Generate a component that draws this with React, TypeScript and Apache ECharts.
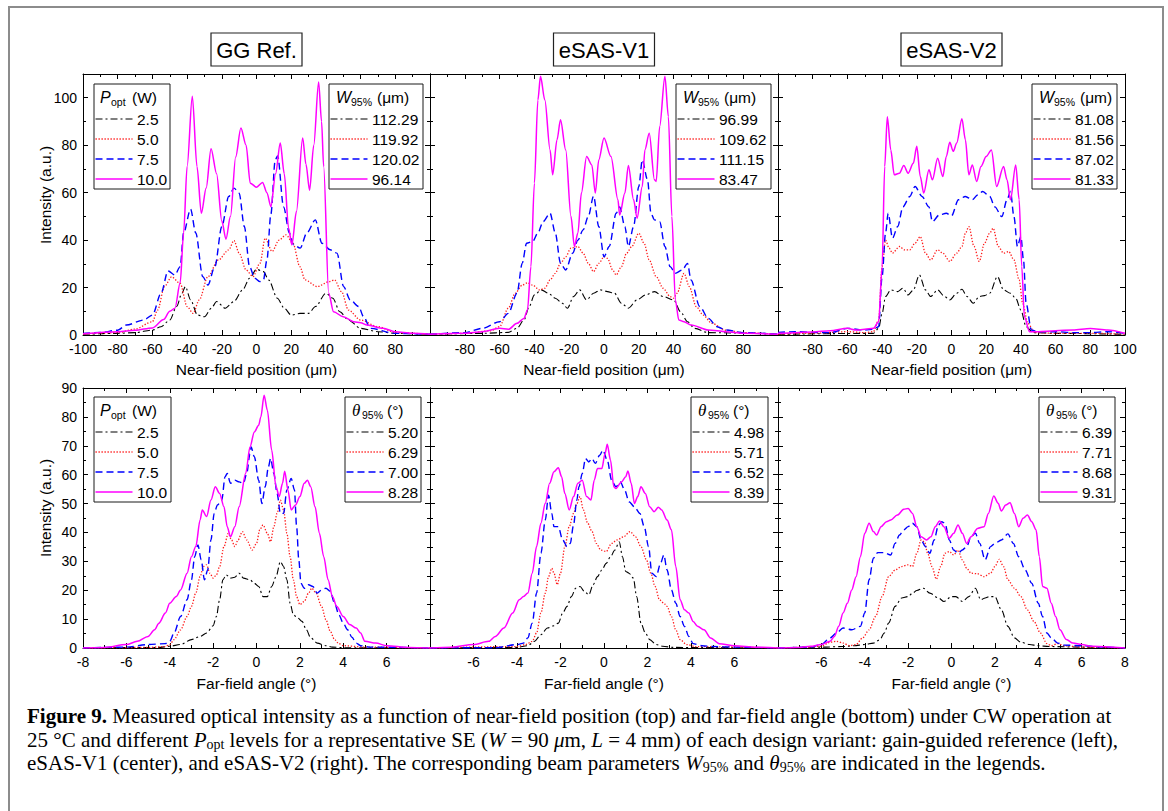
import React, { useEffect, useRef } from 'react';
import * as echarts from 'echarts';

// ---------- legend texts ----------
const powerLevels = ['2.5', '5.0', '7.5', '10.0'];
const w95GG = ['112.29', '119.92', '120.02', '96.14'];
const w95V1 = ['96.99', '109.62', '111.15', '83.47'];
const w95V2 = ['81.08', '81.56', '87.02', '81.33'];
const th95GG = ['5.20', '6.29', '7.00', '8.28'];
const th95V1 = ['4.98', '5.71', '6.52', '8.39'];
const th95V2 = ['6.39', '7.71', '8.68', '9.31'];
const panelTitles = ['GG Ref.', 'eSAS-V1', 'eSAS-V2'];

// ---------- near-field data: [position (µm), intensity] ----------
const nfGG_25 = [[-100,0.3],[-80,0.7],[-70,1],[-60,2.1],[-55,3.5],[-50,6.3],[-46,12],[-43,17.6],[-41,20.4],[-38,14.8],[-34,8.4],[-30,7.7],[-26,11.3],[-23,14.1],[-18,11.3],[-13,14.1],[-8,19],[-4,23.9],[0,27.7],[4,26.7],[7,23.2],[12,15.5],[16,11.3],[20,8.4],[25,9.1],[30,9.1],[34,12],[40,17.6],[44,15.5],[48,9.8],[53,6.3],[60,2.8],[70,1.4],[80,0.7],[100,0.3]];
const nfGG_50 = [[-100,0.4],[-80,1],[-70,2.5],[-60,5.6],[-57,10.5],[-53,20.4],[-49,24.5],[-44,21.8],[-40,12],[-36.5,9.1],[-33,14.8],[-28,24.6],[-22,31.6],[-16,35.9],[-13,39.8],[-10,34.5],[-6,27.4],[-2,24.6],[2,30.2],[5,40.8],[9,35.2],[13,40],[17,42.2],[21,38.7],[25,28.8],[28,23.2],[35,20.4],[42,22.5],[45,23.2],[49,18.3],[53,10.5],[60,6.3],[70,3.5],[80,1],[100,0.3]];
const nfGG_75 = [[-100,0.7],[-90,1.1],[-80,2],[-75,4.2],[-65,6.3],[-60,8.4],[-55,17.6],[-51,27],[-47,25.3],[-44,28.8],[-42,43],[-38,53],[-35,43],[-31,24.6],[-28,21.1],[-24,28.8],[-20,45.7],[-16,58.4],[-13,61.9],[-10,59.8],[-7,45.7],[-4,28.8],[-1,23.9],[2,22.5],[4,23.2],[6,31.6],[8.3,51],[10.8,73.8],[12.2,75.5],[15.6,54],[19,42.9],[21.4,38],[25.2,36.6],[29,43],[33.9,48.5],[37.7,38.7],[42.5,35.9],[46.4,34.5],[50.2,20.4],[54,14.8],[58.9,12],[61.7,7.7],[65.6,2.8],[80,0.7],[100,0.3]];
const nfGG_100 = [[-100,0.5],[-80,1.4],[-70,2],[-60,3],[-53.5,6.5],[-50,10],[-47,11.3],[-44,22],[-42,43],[-40,71],[-37,100.6],[-34.3,71],[-31.8,51.3],[-29,62],[-26.2,78.5],[-23,68],[-20,48],[-17.6,40.4],[-15,50],[-12,75],[-9,87.2],[-6,80],[-3.6,64],[0,62.3],[3.5,64.3],[6,60],[8.3,54.1],[11,68],[13.7,80.9],[16,68],[18.5,45],[20.4,38],[23,52],[26.6,83],[28.5,72],[30.6,61],[33,80],[35.8,106.6],[37.5,90],[38.7,71],[41.6,17.6],[44.4,9.8],[50,7.7],[56,5.6],[60,5.2],[63.7,4.2],[73,2.8],[80,1.4],[90,0.7],[100,0.3]];

const nfV1_25 = [[-100,0.3],[-70,0.7],[-55,1.1],[-50,2.8],[-46,6.3],[-43,12],[-40,16.9],[-36,19],[-32,17.6],[-28,15.5],[-24,13.4],[-21,11.3],[-17.5,16.2],[-14,19],[-10,14.8],[-6,17.6],[-2,19],[2,18.3],[6,17.6],[10,13.4],[14,11.3],[19,14.8],[24,16.9],[29,18.3],[34,16.2],[40,14.8],[44,9.8],[48,5.6],[52,2.8],[60,1],[100,0.3]];
const nfV1_50 = [[-100,0.3],[-80,0.7],[-65,1.8],[-60,3.5],[-55,11.3],[-51,17.6],[-47,21],[-44,22],[-41,21],[-37,19],[-34,19.7],[-31,23.2],[-28,26],[-25,30.2],[-22,33],[-19,36.6],[-15,37.3],[-12,34.5],[-9,30.2],[-6,26.7],[-3,30.2],[0,33],[2,32.3],[5,27.4],[7,25.3],[10,28.8],[13,34.5],[16,37.3],[20,42.9],[23,38.7],[26,31.6],[30,24.6],[34,19.7],[38,16.2],[40,15.5],[42,17.6],[46,26],[49,20.4],[53,12],[57,8.4],[62,4.9],[70,2],[80,1],[100,0.3]];
const nfV1_75 = [[-100,0.3],[-80,1],[-70,2.8],[-60,5.6],[-55,9.1],[-50,17.6],[-47,30.2],[-44.5,38.7],[-41,39.4],[-38,43],[-35,47.8],[-31,51.3],[-28,43],[-25,30.2],[-22,27.4],[-18,34.5],[-15,40],[-12,44.3],[-9,50],[-6,58.5],[-3,45.7],[0,33],[3,37.3],[7,51.3],[9,54],[12,45.7],[14,37.3],[17,45.7],[20,62.6],[22,73.8],[25,65.4],[27,51.3],[29,48.5],[32,47.8],[35,37.3],[38,28.8],[41,26],[45,27.4],[48,30.2],[50,23.2],[55,12],[60,7],[65,3.5],[70,2.1],[80,1],[100,0.3]];
const nfV1_100 = [[-100,0.3],[-80,0.7],[-70,1.4],[-60,2.8],[-55,2.4],[-50,4.9],[-46,7],[-44,10.5],[-42,28.8],[-40,64],[-38,99],[-36.5,109],[-34,99],[-31,78],[-29.5,67.5],[-27,82.3],[-25,90.7],[-22,78],[-19,50],[-17,37.3],[-15,43],[-13,59.8],[-10,75.2],[-7,71.7],[-5,59.8],[-3,73.8],[0,83],[4,75.2],[8,57],[9,50.6],[12,59.8],[14,71.4],[17,57],[19,49.2],[22,62.6],[23.5,78],[26,85],[29,65.4],[30,64.7],[32,87.9],[35,109],[37,92],[39,50],[41,14.8],[43,6.3],[46,5.6],[50,4.2],[60,2.1],[70,1.4],[80,0.7],[100,0.3]];

const nfV2_25 = [[-100,0.3],[-45,0.7],[-42,2.8],[-40,9.1],[-38,16.2],[-35,19],[-31,18.3],[-28,19.7],[-25,16.9],[-22,19],[-18.5,25.3],[-15,19],[-12,16.2],[-8,19],[-4,16.2],[-1,14.8],[3,17.6],[6,19.3],[9,16.2],[12.5,13.4],[16,16.2],[19,16.6],[22,17.6],[26.5,24.6],[30,19],[34,17.6],[37,15.5],[40,10.5],[43,3.5],[47,1],[60,0.7],[100,0.3]];
const nfV2_50 = [[-100,0.4],[-80,0.7],[-60,1.4],[-50,1],[-45,1.4],[-42,6.3],[-40,28.8],[-38,40],[-36,36.6],[-34,34.5],[-30,37.3],[-27,35.9],[-24,35.9],[-21,38.7],[-18,41.5],[-15,34.5],[-12,31.6],[-8,35.9],[-5,34.5],[-1,31],[3,34.5],[6,37.3],[8,42.9],[10,45.7],[13,37.3],[16,31],[19,38.7],[22,42.9],[24,45],[27,37.3],[30,34.5],[33,35.2],[36,31.6],[39,23.2],[41,13.4],[44,4.9],[48,1],[60,0.7],[80,0.7],[100,0.4]];
const nfV2_75 = [[-100,1.1],[-90,1.4],[-80,1.1],[-70,1],[-60,2.8],[-50,2.1],[-45,2.4],[-42,3.5],[-40,24.6],[-38,43],[-36.5,51.3],[-34,40.8],[-31,45.7],[-28,54],[-24,58.4],[-21,62.6],[-17,58.4],[-13,54],[-11,47.8],[-7,50.6],[-3,51.3],[0,50.2],[4,57],[8,58.4],[12,57],[15,59],[18,60.5],[22,58.4],[25,54],[29,49.9],[32,57],[34,60.5],[36,49.9],[38,37.3],[40,41.6],[41.5,31.6],[43,13.4],[46,2.1],[50,1.4],[60,1.4],[70,1],[80,1],[90,1.4],[100,0.7]];
const nfV2_100 = [[-100,0.7],[-90,1],[-80,1.3],[-70,1.8],[-60,2.8],[-55,2.1],[-50,2.4],[-45,2.8],[-42,5.6],[-40,28.8],[-38.5,71],[-37,92],[-35,78],[-33,67.5],[-30,68.2],[-27.5,71.4],[-25,68.2],[-22,72.4],[-20,79.5],[-18,66.8],[-16,59.8],[-13,69.6],[-11,65.4],[-8,74.5],[-5,66.8],[-3,75.2],[-1,81.2],[1,77.4],[3,80.9],[6,91.1],[8,82.3],[10,67.5],[12,71.7],[14.5,64.7],[17,71],[20,75.2],[23,78],[26,62.6],[30,71],[32,65.4],[34,57],[37,71.7],[39,57],[40.5,28.8],[42,7.7],[45,1.4],[50,1.4],[60,1.8],[70,2.1],[80,2.7],[90,2.1],[100,0.7]];

// ---------- far-field data: [angle (°), intensity] ----------
const ffGG_25 = [[-8,0],[-4.5,0.2],[-4,0.6],[-3.5,1.2],[-3,2.9],[-2.6,4],[-2.3,5.2],[-2,7.7],[-1.85,10.9],[-1.7,16.7],[-1.55,23.6],[-1.4,25.3],[-1.2,24.2],[-1,24.5],[-0.8,25.9],[-0.6,24.2],[-0.3,23.6],[-0.1,22.4],[0.1,21.3],[0.3,17.8],[0.5,17.8],[0.7,21.3],[0.9,24.7],[1.1,29.9],[1.25,28.2],[1.4,23.6],[1.55,15.5],[1.7,11.5],[1.9,10.4],[2.1,9.2],[2.3,6.3],[2.5,3.5],[2.8,1.7],[3.2,0.8],[3.5,0.3],[4,0.1],[8,0]];
const ffGG_50 = [[-8,0],[-5,0.2],[-4.2,0.5],[-4,1.2],[-3.8,2.9],[-3.5,6.3],[-3.2,10.9],[-3,14.4],[-2.8,19],[-2.6,24.7],[-2.45,28.2],[-2.3,28.8],[-2.15,25.9],[-2,24.2],[-1.85,25.3],[-1.7,28.2],[-1.5,35.1],[-1.3,39.7],[-1.15,37.4],[-1,35.1],[-0.85,37.4],[-0.65,40.3],[-0.45,37.4],[-0.2,33.9],[0,36.2],[0.15,40.9],[0.3,42.6],[0.5,39.7],[0.65,36.8],[0.8,42],[0.95,46.6],[1.1,51.2],[1.25,47.8],[1.4,39.7],[1.55,31.6],[1.7,23.6],[1.85,17.8],[2,15],[2.2,16.1],[2.4,19],[2.55,20.7],[2.75,19],[3,14.4],[3.2,9.8],[3.4,5.8],[3.6,2.9],[3.8,1.5],[4,0.8],[5,0.3],[8,0]];
const ffGG_75 = [[-8,0],[-6,0.3],[-5,1.2],[-4.2,1.5],[-4,2.3],[-3.8,5.2],[-3.5,10.9],[-3.2,16.7],[-3,23.6],[-2.85,31.6],[-2.7,35.7],[-2.55,30.5],[-2.4,23.6],[-2.25,27],[-2.1,37.4],[-1.95,46.6],[-1.8,49.5],[-1.6,51.2],[-1.45,59.3],[-1.35,60.4],[-1.2,57],[-1,58.1],[-0.8,57.5],[-0.6,57],[-0.45,60.4],[-0.3,67.3],[-0.25,69.6],[-0.1,66.2],[0.1,58.1],[0.25,50],[0.4,55.8],[0.55,62.7],[0.65,65.6],[0.8,60.4],[0.95,53.5],[1.1,46.6],[1.25,46.6],[1.4,54.7],[1.6,58.7],[1.75,54.7],[1.85,42],[1.95,30.5],[2.05,22.4],[2.2,20.7],[2.4,21.9],[2.6,21.3],[2.8,19],[3,20.1],[3.2,20.7],[3.4,19.6],[3.6,15.5],[3.8,11.5],[4,8.6],[4.2,6.3],[4.4,3.7],[4.6,1.7],[4.8,0.8],[5.2,0.3],[8,0]];
const ffGG_100 = [[-8,0],[-7,0.2],[-6,1.2],[-5.5,2.3],[-5,4],[-4.7,6.3],[-4.5,8.6],[-4.2,12.1],[-4,15.5],[-3.7,17.8],[-3.5,20.1],[-3.2,25.9],[-3,31.6],[-2.8,35.1],[-2.6,44.3],[-2.5,47.8],[-2.3,45.5],[-2.1,51.2],[-1.9,55.8],[-1.7,53.5],[-1.5,48.9],[-1.35,42],[-1.2,38.5],[-1,42],[-0.8,48.9],[-0.5,60.4],[-0.3,69.6],[-0.1,74.8],[0.1,77.1],[0.2,80],[0.35,87.5],[0.5,82.3],[0.7,68.5],[0.9,55.8],[1.05,52.4],[1.2,57],[1.3,61.2],[1.45,54.7],[1.6,47.8],[1.8,49.5],[2,52.4],[2.2,57],[2.35,58.1],[2.5,55.8],[2.7,48.9],[2.9,39.7],[3.1,31.6],[3.3,23.6],[3.5,17.8],[3.7,14.4],[4,10.9],[4.3,8.1],[4.6,6.9],[4.8,5.2],[5,2.3],[5.5,1.7],[6,0.8],[7,0.2],[8,0]];

const ffV1_25 = [[-8,0],[-4,0.2],[-3.5,0.8],[-3.2,2.3],[-2.9,4.6],[-2.6,6.9],[-2.3,7.7],[-2.1,8.6],[-1.9,12.1],[-1.7,14.4],[-1.5,17.8],[-1.3,20.7],[-1.1,21.3],[-0.9,19.6],[-0.7,18.4],[-0.5,21.9],[-0.3,24.7],[-0.1,27],[0.1,29.3],[0.3,31.6],[0.5,33.9],[0.7,36.8],[0.85,31.6],[1,26.5],[1.15,25.9],[1.35,24.2],[1.5,17.8],[1.7,8.6],[1.9,5.2],[2.1,2.9],[2.4,1.2],[2.7,0.6],[3.2,0.2],[8,0]];
const ffV1_50 = [[-8,0],[-4,0.5],[-3.6,1.2],[-3.3,2.3],[-3.1,5.2],[-2.9,12.1],[-2.7,19],[-2.55,24.7],[-2.4,27.6],[-2.3,25.9],[-2.15,21.9],[-2,25.9],[-1.8,35.1],[-1.6,42],[-1.4,46.6],[-1.25,50],[-1.1,52.4],[-0.95,47.8],[-0.75,43.2],[-0.55,40.3],[-0.35,36.2],[-0.15,33.9],[0.1,33.4],[0.35,36.2],[0.6,37.4],[0.9,38.5],[1.2,40.3],[1.45,38.5],[1.7,35.1],[1.95,30.5],[2.15,25.9],[2.35,21.3],[2.55,16.7],[2.75,15.5],[2.9,14.4],[3.1,10.9],[3.3,6.3],[3.5,2.9],[3.8,1.2],[4.2,0.5],[8,0]];
const ffV1_75 = [[-8,0],[-5,0.1],[-4,1.2],[-3.7,1.7],[-3.5,3.5],[-3.3,8.6],[-3.1,19],[-2.9,32.8],[-2.7,44.3],[-2.55,52.9],[-2.4,46.6],[-2.3,42],[-2.1,42],[-1.9,37.4],[-1.7,35.1],[-1.55,36.2],[-1.4,42.6],[-1.25,51.2],[-1.15,55.8],[-1,60.4],[-0.85,65.6],[-0.7,64.4],[-0.55,65.6],[-0.4,63.9],[-0.2,66.7],[-0.05,68.5],[0.15,65],[0.35,58.1],[0.55,55.8],[0.75,57.5],[0.95,54.7],[1.15,50.6],[1.4,48.9],[1.65,46.6],[1.85,42],[2.05,35.1],[2.2,25.9],[2.4,24.7],[2.6,29.3],[2.75,32.2],[2.9,27],[3.1,20.1],[3.3,15.5],[3.5,10.9],[3.7,7.5],[3.9,4],[4.1,1.5],[4.5,0.8],[5,0.5],[6,0.3],[8,0]];
const ffV1_100 = [[-8,0],[-7,0.3],[-6,1.2],[-5.3,2.3],[-5,4],[-4.6,6.9],[-4.2,12.1],[-3.9,16.7],[-3.7,17.8],[-3.5,19],[-3.3,25.9],[-3.1,35.1],[-2.9,43.2],[-2.7,50.1],[-2.5,57],[-2.3,61],[-2.1,62.4],[-1.95,59.3],[-1.8,53.5],[-1.6,47.8],[-1.4,52.4],[-1.2,57],[-1,58.1],[-0.8,52.4],[-0.6,51.2],[-0.45,58.1],[-0.3,62.1],[-0.1,62.1],[0.05,67.3],[0.15,70.5],[0.3,65],[0.45,55.8],[0.55,55.2],[0.8,57.5],[1,59.3],[1.1,61.3],[1.25,57],[1.4,50],[1.55,52.4],[1.7,55.8],[1.9,53.5],[2.1,48.9],[2.3,47.2],[2.5,48.7],[2.65,47.8],[2.9,44.3],[3.1,40.9],[3.3,28.2],[3.5,16.7],[3.7,13.2],[3.9,12.1],[4.1,9.2],[4.3,7.5],[4.6,6.3],[4.9,3.5],[5.3,1.5],[6,0.8],[7,0.3],[8,0]];

const ffV2_25 = [[-8,0],[-6,0.3],[-5,0.5],[-4.5,0.8],[-4,1.2],[-3.6,1.7],[-3.3,2.9],[-3.1,5.2],[-2.9,8.6],[-2.6,14.4],[-2.3,17.3],[-2,17.8],[-1.8,19],[-1.6,19.9],[-1.3,20.7],[-1,19],[-0.6,17.3],[-0.35,16.1],[0,17.8],[0.2,17.8],[0.5,16.1],[0.8,17.8],[1.1,20.7],[1.35,16.7],[1.55,17.3],[1.75,17.8],[2,17.8],[2.3,13.2],[2.6,7.5],[2.9,3.5],[3.2,2],[3.6,1.2],[4,0.8],[4.5,0.5],[6,0.3],[8,0]];
const ffV2_50 = [[-8,0],[-6.5,0.3],[-6,0.6],[-5.6,2],[-5.3,2.3],[-5,1.7],[-4.7,0.8],[-4.4,1.2],[-4.1,3.5],[-3.8,6.3],[-3.5,10.9],[-3.2,17.8],[-2.9,24.7],[-2.6,27],[-2.3,28.2],[-2,28.8],[-1.8,28.2],[-1.6,32.8],[-1.4,37.4],[-1.25,36.8],[-1.1,32.8],[-0.9,28.2],[-0.7,23.8],[-0.5,28.2],[-0.3,32.8],[-0.1,33.4],[0.1,32.2],[0.3,33.9],[0.5,30.5],[0.7,27.6],[0.9,25.9],[1.2,25.7],[1.5,24.7],[1.8,25.9],[2,28.2],[2.2,30.7],[2.4,28.2],[2.6,23.6],[2.9,20.7],[3.2,17.8],[3.5,13.2],[3.8,9.2],[4.1,5.2],[4.4,1.5],[4.6,0.8],[4.9,1.5],[5.2,0.8],[6,0.3],[8,0]];
const ffV2_75 = [[-8,0],[-6.5,0.3],[-6,1.2],[-5.6,3.5],[-5.3,5.2],[-5,6.9],[-4.6,6.3],[-4.2,7.5],[-4,12.1],[-3.8,23.6],[-3.6,31.1],[-3.4,33],[-3.1,33],[-2.8,32.2],[-2.6,36.2],[-2.4,39.1],[-2.2,40.9],[-2,42],[-1.8,43.2],[-1.6,42],[-1.4,37.4],[-1.2,35.1],[-1,32.8],[-0.8,37.4],[-0.6,42.6],[-0.45,43.7],[-0.3,43.2],[-0.1,37.4],[0.1,33.9],[0.3,32.8],[0.5,33.9],[0.7,35.1],[0.9,38.5],[1.1,39.7],[1.3,36.2],[1.55,30.5],[1.8,35.1],[2,36.2],[2.3,37.4],[2.6,39.5],[2.85,36.2],[3.1,31.6],[3.4,27],[3.7,22.4],[4,15.5],[4.2,10.9],[4.4,5.2],[4.6,3.5],[4.9,1.7],[5.2,1],[6,0.8],[7,0.3],[8,0]];
const ffV2_100 = [[-8,0],[-7,0.2],[-6.5,0.6],[-6,1.2],[-5.6,2.3],[-5.4,4],[-5.2,7.5],[-5,12.1],[-4.8,15.5],[-4.6,20.1],[-4.4,24.7],[-4.2,31.6],[-4,39.7],[-3.8,43.2],[-3.6,40.3],[-3.45,39.1],[-3.25,42],[-3,43.7],[-2.8,44.3],[-2.5,46],[-2.2,48],[-2,48.3],[-1.8,46.6],[-1.6,42],[-1.4,38.5],[-1.15,37.4],[-0.95,38.5],[-0.75,42],[-0.55,44],[-0.35,42],[-0.1,38],[0.1,39.7],[0.3,42.6],[0.5,39.7],[0.7,36.2],[0.9,38.5],[1.2,41.4],[1.5,42],[1.7,46.6],[1.95,52.6],[2.15,50.1],[2.3,47.4],[2.5,49.5],[2.7,50.3],[2.9,46.6],[3.1,42],[3.3,44.9],[3.5,46],[3.7,43.7],[3.9,40.9],[4.05,31.6],[4.2,21.3],[4.4,20.7],[4.6,15.5],[4.8,10.9],[5,6.3],[5.3,2.9],[5.6,1.7],[6,1.2],[6.5,0.6],[8,0]];

// ---------- styling ----------
const SANS = '"Liberation Sans", Arial, Helvetica, sans-serif';
const SERIF = '"Liberation Serif", "Times New Roman", serif';
const seriesColors = ['#000000', '#ff1a1a', '#0000ff', '#ff00ff'];
const seriesDashes: any[] = [[7, 3, 2, 3], [1.3, 1.7], [7, 4], null];
const seriesWidths = [1.1, 1.3, 1.4, 1.5];

type Panel = {
  left: number; top: number; width: number; height: number;
  xMin: number; xMax: number; xInt: number; yMax: number; yInt: number;
  showY: boolean; showMin: boolean; showMax: boolean; data: number[][][];
};

const colLefts = [83, 430, 778];
const colWidths = [347, 348, 347];

const panels: Panel[] = [
  { left: colLefts[0], top: 74, width: colWidths[0], height: 261, xMin: -100, xMax: 100, xInt: 20, yMax: 110, yInt: 20, showY: true, showMin: true, showMax: false, data: [nfGG_25, nfGG_50, nfGG_75, nfGG_100] },
  { left: colLefts[1], top: 74, width: colWidths[1], height: 261, xMin: -100, xMax: 100, xInt: 20, yMax: 110, yInt: 20, showY: false, showMin: false, showMax: false, data: [nfV1_25, nfV1_50, nfV1_75, nfV1_100] },
  { left: colLefts[2], top: 74, width: colWidths[2], height: 261, xMin: -100, xMax: 100, xInt: 20, yMax: 110, yInt: 20, showY: false, showMin: false, showMax: true, data: [nfV2_25, nfV2_50, nfV2_75, nfV2_100] },
  { left: colLefts[0], top: 388, width: colWidths[0], height: 260, xMin: -8, xMax: 8, xInt: 2, yMax: 90, yInt: 10, showY: true, showMin: true, showMax: false, data: [ffGG_25, ffGG_50, ffGG_75, ffGG_100] },
  { left: colLefts[1], top: 388, width: colWidths[1], height: 260, xMin: -8, xMax: 8, xInt: 2, yMax: 90, yInt: 10, showY: false, showMin: false, showMax: false, data: [ffV1_25, ffV1_50, ffV1_75, ffV1_100] },
  { left: colLefts[2], top: 388, width: colWidths[2], height: 260, xMin: -8, xMax: 8, xInt: 2, yMax: 90, yInt: 10, showY: false, showMin: false, showMax: true, data: [ffV2_25, ffV2_50, ffV2_75, ffV2_100] },
];

function txt(x: number, y: number, text: string, font: string, align = 'left', extra: any = {}) {
  return {
    type: 'text', x, y, z: 100, silent: true,
    style: { text, font, fill: '#000', textAlign: align, align, textVerticalAlign: 'middle', verticalAlign: 'middle', ...extra },
  };
}

function legend(bx: number, by: number, w: number, kind: 'P' | 'W' | 'T', labels: string[]) {
  const els: any[] = [];
  els.push({ type: 'rect', z: 99, silent: true, shape: { x: bx, y: by, width: w, height: 105 }, style: { fill: '#fff', stroke: '#1a1a1a', lineWidth: 1 } });
  const ty = by + 13;
  if (kind === 'P') {
    els.push(txt(bx + 6, ty, 'P', `italic 16px ${SANS}`));
    els.push(txt(bx + 17, ty + 5, 'opt', `10.5px ${SANS}`));
    els.push(txt(bx + 38, ty, '(W)', `15.5px ${SANS}`));
  } else if (kind === 'W') {
    els.push(txt(bx + 7, ty, 'W', `italic 16px ${SANS}`));
    els.push(txt(bx + 22, ty + 5, '95%', `10.5px ${SANS}`));
    els.push(txt(bx + 48, ty, '(μm)', `15.5px ${SANS}`));
  } else {
    els.push(txt(bx + 7, ty, 'θ', `italic 17px ${SERIF}`));
    els.push(txt(bx + 17, ty + 5, '95%', `10.5px ${SANS}`));
    els.push(txt(bx + 42, ty, '(°)', `15.5px ${SANS}`));
  }
  labels.forEach((lab, i) => {
    const y = by + 35 + 20 * i;
    els.push({ type: 'line', z: 100, silent: true, shape: { x1: bx + 1.5, y1: y, x2: bx + 38.5, y2: y }, style: { stroke: seriesColors[i], lineWidth: seriesWidths[i], lineDash: seriesDashes[i] || undefined } });
    els.push(txt(bx + 43, y, lab, `15.5px ${SANS}`));
  });
  return els;
}

function buildOption() {
  const grid: any[] = [];
  const xAxis: any[] = [];
  const yAxis: any[] = [];
  const series: any[] = [];
  const tick = { inside: true, length: 5, lineStyle: { color: '#000', width: 1 } };
  const minor = { show: true, splitNumber: 2, length: 3, lineStyle: { color: '#000', width: 1 } };
  const line = { show: true, onZero: false, lineStyle: { color: '#000', width: 1 } };
  panels.forEach((p, i) => {
    grid.push({ left: p.left, top: p.top, width: p.width, height: p.height, containLabel: false });
    const xBase = { type: 'value', gridIndex: i, min: p.xMin, max: p.xMax, interval: p.xInt, axisLine: line, axisTick: tick, minorTick: minor, splitLine: { show: false }, minorSplitLine: { show: false } };
    xAxis.push({ ...xBase, position: 'bottom', axisLabel: { show: true, color: '#000', fontSize: 14, lineHeight: 14, fontFamily: SANS, margin: 7, showMinLabel: p.showMin, showMaxLabel: p.showMax } });
    xAxis.push({ ...xBase, position: 'top', axisLabel: { show: false } });
    const yBase = { type: 'value', gridIndex: i, min: 0, max: p.yMax, interval: p.yInt, axisLine: line, axisTick: tick, minorTick: minor, splitLine: { show: false }, minorSplitLine: { show: false } };
    yAxis.push({ ...yBase, position: 'left', axisLabel: { show: p.showY, color: '#000', fontSize: 14, lineHeight: 11, fontFamily: SANS, margin: 6, showMaxLabel: p.yMax === 90 } });
    yAxis.push({ ...yBase, position: 'right', axisLabel: { show: false } });
    p.data.forEach((d, k) => {
      series.push({
        type: 'line', xAxisIndex: 2 * i, yAxisIndex: 2 * i, data: d,
        showSymbol: false, symbol: 'none', smooth: 0.3, smoothMonotone: 'x', silent: true, z: 2 + k,
        lineStyle: { color: seriesColors[k], width: seriesWidths[k], type: seriesDashes[k] || 'solid' },
      });
    });
  });

  const graphic: any[] = [];
  // outer frame
  graphic.push({ type: 'rect', z: 1, silent: true, shape: { x: 9, y: 7, width: 1154, height: 830 }, style: { fill: 'none', stroke: '#8c8c8c', lineWidth: 2 } });
  // panel titles and axis names
  const titleW = [91, 101, 101];
  panelTitles.forEach((t, c) => {
    const cx = colLefts[c] + colWidths[c] / 2;
    graphic.push({ type: 'rect', z: 99, silent: true, shape: { x: cx - titleW[c] / 2, y: 33, width: titleW[c], height: 33 }, style: { fill: '#fff', stroke: '#222', lineWidth: 1.2 } });
    graphic.push(txt(cx, 50, t, `22px ${SANS}`, 'center'));
    graphic.push(txt(cx, 369, 'Near-field position (μm)', `15.5px ${SANS}`, 'center'));
    graphic.push(txt(cx, 683, 'Far-field angle (°)', `15.5px ${SANS}`, 'center'));
  });
  // y axis names
  graphic.push({ ...txt(45, 195, 'Intensity (a.u.)', `15.5px ${SANS}`, 'center'), rotation: Math.PI / 2 });
  graphic.push({ ...txt(45, 508, 'Intensity (a.u.)', `15.5px ${SANS}`, 'center'), rotation: Math.PI / 2 });
  // legends
  graphic.push(...legend(94, 84, 76, 'P', powerLevels));
  graphic.push(...legend(329, 84, 94, 'W', w95GG));
  graphic.push(...legend(676, 84, 95, 'W', w95V1));
  graphic.push(...legend(1032, 84, 85, 'W', w95V2));
  graphic.push(...legend(94, 397, 77, 'P', powerLevels));
  graphic.push(...legend(345, 397, 76, 'T', th95GG));
  graphic.push(...legend(691, 397, 77, 'T', th95V1));
  graphic.push(...legend(1039, 397, 76, 'T', th95V2));
  // caption
  const rich = {
    b: { fontWeight: 'bold', fontFamily: SERIF, fontSize: 21, lineHeight: 22 },
    i: { fontStyle: 'italic', fontFamily: SERIF, fontSize: 21, lineHeight: 22 },
    s: { fontFamily: SERIF, fontSize: 14, verticalAlign: 'bottom', lineHeight: 14 },
  };
  const capLines = [
    '{b|Figure 9.} Measured optical intensity as a function of near-field position (top) and far-field angle (bottom) under CW operation at',
    '25 °C and different {i|P}{s|opt} levels for a representative SE ({i|W} = 90 {i|μ}m, {i|L} = 4 mm) of each design variant: gain-guided reference (left),',
    'eSAS-V1 (center), and eSAS-V2 (right). The corresponding beam parameters {i|W}{s|95%} and {i|θ}{s|95%} are indicated in the legends.',
  ];
  const capY = [716, 740, 763];
  capLines.forEach((l, k) => {
    graphic.push({
      type: 'text', x: 27, y: capY[k], z: 100, silent: true,
      style: { text: l, font: `21px ${SERIF}`, fill: '#000', lineHeight: 22, rich, textAlign: 'left', align: 'left', textVerticalAlign: 'middle', verticalAlign: 'middle' },
    });
  });

  return { animation: false, backgroundColor: '#fff', grid, xAxis, yAxis, series, graphic };
}

export default function App() {
  const ref = useRef<HTMLDivElement>(null);
  useEffect(() => {
    if (!ref.current) return;
    const chart = echarts.init(ref.current, null, { renderer: 'svg' });
    chart.setOption(buildOption() as any);
    return () => chart.dispose();
  }, []);
  return <div ref={ref} style={{ position: 'absolute', left: 0, top: 0, width: 1168, height: 811, background: '#fff' }} />;
}
